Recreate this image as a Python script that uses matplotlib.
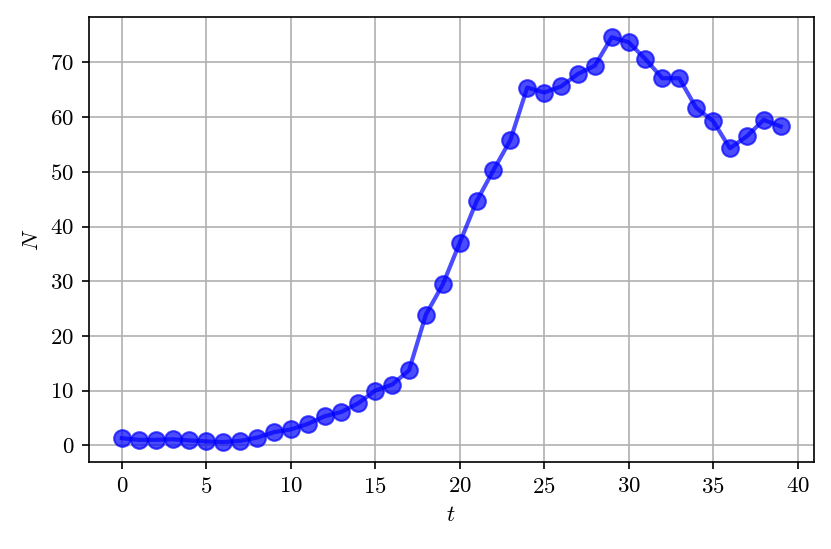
import numpy as np
import matplotlib
matplotlib.use("Agg")
import matplotlib.pyplot as plt

plt.rcParams['font.family'] = 'serif'
plt.rcParams['font.serif'] = ['cmr10']
plt.rcParams['mathtext.fontset'] = 'cm'
plt.rcParams['axes.formatter.use_mathtext'] = True
plt.rcParams['font.size'] = 11

t = np.arange(40)
N = [1.3, 1.0, 1.0, 1.1, 0.9, 0.7, 0.6, 0.8, 1.4, 2.4,
     2.9, 3.9, 5.3, 6.1, 7.7, 10.0, 11.1, 13.7, 23.9, 29.4,
     37.0, 44.6, 50.3, 55.8, 65.4, 64.5, 65.6, 67.9, 69.4, 74.6,
     73.7, 70.6, 67.1, 67.1, 61.7, 59.3, 54.3, 56.5, 59.5, 58.3]

fig, ax = plt.subplots(figsize=(831/150, 549/150), dpi=150)
ax.plot(t, N, 'o-', color='blue', alpha=0.7, markersize=8, linewidth=2)
ax.set_xlabel('$t$')
ax.set_ylabel('$N$')
ax.grid(True)
ax.set_xticks(np.arange(0, 41, 5))
fig.subplots_adjust(left=0.107, right=0.979, top=0.969, bottom=0.158)
fig.savefig('out.png', dpi=150)
